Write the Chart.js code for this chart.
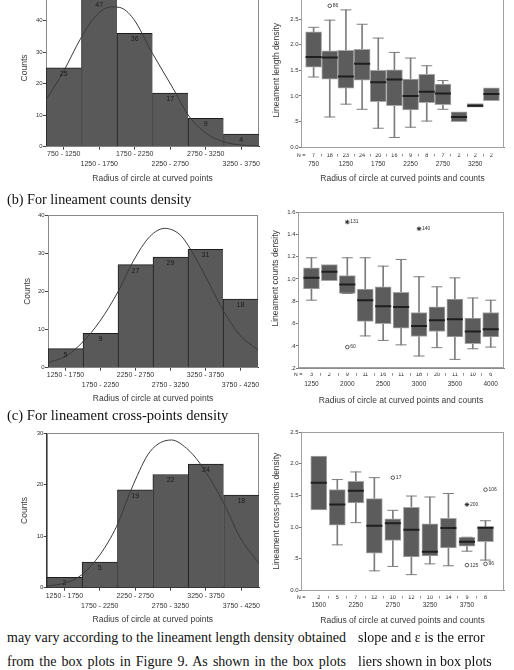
<!DOCTYPE html>
<html>
<head>
<meta charset="utf-8">
<script src="https://cdn.jsdelivr.net/npm/chart.js@4.4.1/dist/chart.umd.min.js"></script>
<style>
html,body{margin:0;padding:0;background:#fff;}
body{width:514px;height:670px;overflow:hidden;position:relative;}
canvas.c{position:absolute;}
.head{position:absolute;left:7px;font-family:"Liberation Serif","Times New Roman",serif;line-height:1;color:#111;white-space:nowrap;}
.body{position:absolute;font-family:"Liberation Serif","Times New Roman",serif;font-size:14px;line-height:24px;color:#111;white-space:nowrap;}
.just{text-align:justify;text-align-last:justify;}
</style>
</head>
<body>
<canvas class="c" id="histA"></canvas>
<canvas class="c" id="boxA"></canvas>
<canvas class="c" id="histB"></canvas>
<canvas class="c" id="boxB"></canvas>
<canvas class="c" id="histC"></canvas>
<canvas class="c" id="boxC"></canvas>

<div class="head" style="top:192.1px;font-size:14.2px">(b) For lineament counts density</div>
<div class="head" style="top:407.8px;font-size:14.6px">(c) For lineament cross-points density</div>

<div class="body just" style="left:7px;top:626.3px;width:339px">may vary according to the lineament length density obtained</div>
<div class="body just" style="left:7px;top:650.3px;width:339px">from the box plots in Figure 9. As shown in the box plots</div>
<div class="body" style="left:358px;top:626.3px">slope and ε is the error</div>
<div class="body" style="left:358px;top:650.3px">liers shown in box plots</div>

<script>
// ================= DATA =================
// (a) lineament length density
const histA_edges  = [750, 1250, 1750, 2250, 2750, 3250, 3750];
const histA_bins   = ['750 - 1250','1250 - 1750','1750 - 2250','2250 - 2750','2750 - 3250','3250 - 3750'];
const histA_counts = [25, 47, 36, 17, 9, 4];
const histA_curveX = [750, 994, 1252, 1463, 1673, 1790, 1978, 2250, 2540, 2751, 3009, 3248, 3502, 3750];
const histA_curveY = [14.8, 23.8, 34.9, 41.8, 44.4, 44.2, 40.7, 29.6, 18.5, 10.1, 4.2, 1.6, 0.5, 0.2];

const boxA_cats = ['750','','1250','','1750','','2250','','2750','','3250',''];
const boxA_n    = [7, 18, 23, 24, 20, 16, 9, 8, 7, 2, 2, 2];
const boxA_low  = [1.37, 0.59, 0.84, 0.74, 0.37, 0.19, 0.39, 0.51, 0.74, null, null, null];
const boxA_q1   = [1.56, 1.33, 1.15, 1.31, 0.89, 0.81, 0.73, 0.87, 0.83, 0.50, 0.78, 0.91];
const boxA_med  = [1.76, 1.75, 1.38, 1.63, 1.27, 1.32, 1.00, 1.08, 1.05, 0.59, 0.81, 1.04];
const boxA_q3   = [2.25, 1.88, 1.89, 1.91, 1.50, 1.51, 1.33, 1.42, 1.23, 0.69, 0.85, 1.16];
const boxA_high = [2.34, 2.48, 2.68, 2.40, 2.13, 1.85, 1.74, 1.59, 1.30, null, null, null];
const boxA_outBox = [1];
const boxA_outVal = [2.76];
const boxA_outLab = ['86'];
const boxA_outExt = [false];

// (b) lineament counts density
const histB_edges  = [1250, 1750, 2250, 2750, 3250, 3750, 4250];
const histB_bins   = ['1250 - 1750','1750 - 2250','2250 - 2750','2750 - 3250','3250 - 3750','3750 - 4250'];
const histB_counts = [5, 9, 27, 29, 31, 18];
const histB_curveX = [1250, 1512, 1750, 1988, 2250, 2464, 2702, 2917, 3131, 3250, 3464, 3750, 3988, 4250];
const histB_curveY = [1.3, 3.1, 6.8, 12.1, 19.9, 27.8, 34.3, 36.5, 34.9, 32.1, 25.2, 15.1, 8.6, 4.6];

const boxB_cats = ['1250','','2000','','2500','','3000','','3500','','4000'];
const boxB_n    = [3, 2, 9, 11, 16, 11, 18, 20, 11, 10, 6];
const boxB_low  = [0.81, null, 0.87, 0.49, 0.45, 0.41, 0.31, 0.385, 0.28, 0.375, 0.39];
const boxB_q1   = [0.91, 0.985, 0.87, 0.62, 0.60, 0.56, 0.485, 0.53, 0.48, 0.42, 0.48];
const boxB_med  = [1.01, 1.065, 0.95, 0.81, 0.755, 0.75, 0.58, 0.63, 0.64, 0.53, 0.55];
const boxB_q3   = [1.10, 1.13, 1.03, 0.91, 0.93, 0.88, 0.70, 0.75, 0.82, 0.65, 0.70];
const boxB_high = [1.19, null, 1.19, 1.19, 1.115, 1.175, 1.02, 0.93, 1.01, 0.83, 0.81];
const boxB_outBox = [2, 2, 6];
const boxB_outVal = [1.51, 0.39, 1.45];
const boxB_outLab = ['131', '60', '140'];
const boxB_outExt = [true, false, true];

// (c) lineament cross-points density
const histC_edges  = [1250, 1750, 2250, 2750, 3250, 3750, 4250];
const histC_bins   = ['1250 - 1750','1750 - 2250','2250 - 2750','2750 - 3250','3250 - 3750','3750 - 4250'];
const histC_counts = [2, 5, 19, 22, 24, 18];
const histC_curveX = [1250, 1532, 1744, 2002, 2237, 2473, 2708, 3013, 3225, 3413, 3742, 3977, 4250];
const histC_curveY = [0.3, 1.0, 2.5, 6.4, 11.9, 20.0, 26.4, 28.7, 27.1, 24.2, 16.7, 9.9, 4.7];

const boxC_cats = ['1500','','2250','','2750','','3250','','3750',''];
const boxC_n    = [2, 5, 7, 12, 10, 12, 10, 14, 9, 8];
const boxC_low  = [null, 0.72, 1.07, 0.31, 0.38, 0.25, 0.42, 0.39, 0.62, 0.48];
const boxC_q1   = [1.27, 1.03, 1.38, 0.59, 0.79, 0.53, 0.545, 0.67, 0.70, 0.77];
const boxC_med  = [1.70, 1.355, 1.575, 1.02, 1.06, 0.96, 0.61, 0.985, 0.77, 0.99];
const boxC_q3   = [2.12, 1.59, 1.72, 1.45, 1.13, 1.31, 1.05, 1.14, 0.84, 1.01];
const boxC_high = [null, 1.75, 1.87, 1.78, 1.265, 1.49, 1.475, 1.53, 0.84, 1.10];
const boxC_outBox = [4, 8, 8, 9, 9];
const boxC_outVal = [1.78, 1.355, 0.40, 1.59, 0.42];
const boxC_outLab = ['17', '200', '125', '106', '96'];
const boxC_outExt = [false, true, false, false, false];

// ================= RENDERING =================
const F = "'Liberation Sans', Arial, Helvetica, sans-serif";
Chart.defaults.font.family = F;
Chart.defaults.color = '#333';
Chart.defaults.animation = false;

const framePlugin = {
  id: 'frame',
  beforeDatasetsDraw(chart, args, opts) {
    const a = chart.chartArea, ctx = chart.ctx;
    ctx.save();
    ctx.strokeStyle = opts.color || '#999';
    ctx.lineWidth = 1;
    ctx.strokeRect(Math.round(a.left) + 0.5, Math.round(a.top) + 0.5,
                   Math.round(a.right - a.left) - 1, Math.round(a.bottom - a.top) - 1);
    ctx.restore();
  }
};

const barLabelPlugin = {
  id: 'barLabels',
  afterDatasetsDraw(chart, args, opts) {
    const ctx = chart.ctx;
    const meta = chart.getDatasetMeta(0);
    const ds = chart.data.datasets[0];
    ctx.save();
    ctx.font = opts.font;
    ctx.fillStyle = opts.color;
    ctx.textAlign = 'center';
    ctx.textBaseline = 'middle';
    meta.data.forEach((el, i) => ctx.fillText(String(ds.data[i].y), el.x, el.y + opts.offset));
    ctx.restore();
  }
};

const pointLabelPlugin = {
  id: 'pointLabels',
  afterDatasetsDraw(chart) {
    const ctx = chart.ctx;
    chart.data.datasets.forEach((ds, di) => {
      if (!ds.pointLabels) return;
      const meta = chart.getDatasetMeta(di);
      ctx.save();
      ctx.font = '5px ' + F;
      ctx.fillStyle = '#333';
      ctx.textAlign = 'left';
      ctx.textBaseline = 'middle';
      meta.data.forEach((el, i) => ctx.fillText(ds.pointLabels[i], el.x + 3, el.y));
      ctx.restore();
    });
  }
};

function sizeCanvas(cv, g) {
  const H = Math.round(g.titleY + 5.1 - g.top);
  cv.width = g.width; cv.height = H;
  cv.style.left = g.left + 'px'; cv.style.top = g.top + 'px';
  cv.style.width = g.width + 'px'; cv.style.height = H + 'px';
  return H;
}

function makeHist(id, g, edges, bins, counts, curveX, curveY) {
  const cv = document.getElementById(id);
  const H = sizeCanvas(cv, g);
  const titlePadB = (g.top + H) - (g.titleY + 5.1);
  const centers = bins.map((_, i) => (edges[i] + edges[i + 1]) / 2);
  new Chart(cv, {
    type: 'bar',
    data: {
      datasets: [
        { type: 'bar', data: centers.map((c, i) => ({x: c, y: counts[i]})), xAxisID: 'x', yAxisID: 'y',
          backgroundColor: '#595959', borderColor: '#1c1c1c',
          borderWidth: {top: 1, left: 1, right: 0, bottom: 0}, borderSkipped: false,
          grouped: false, categoryPercentage: 1, barPercentage: 1, order: 1 },
        { type: 'line', data: curveX.map((x, i) => ({x: x, y: curveY[i]})), xAxisID: 'x', yAxisID: 'y',
          borderColor: '#3a3a3a', borderWidth: 1, pointRadius: 0, cubicInterpolationMode: 'monotone',
          fill: false, order: 0 }
      ]
    },
    options: {
      responsive: false, animation: false,
      layout: { padding: { left: 0, top: g.plotTop - g.top, right: g.left + g.width - g.plotRight, bottom: 0 } },
      scales: {
        x: { type: 'linear', position: 'bottom', offset: false, min: edges[0], max: edges[edges.length - 1],
             afterBuildTicks: s => { s.ticks = centers.map(c => ({value: c})); },
             grid: { display: true, drawOnChartArea: false, offset: false, tickLength: 3, color: '#444' },
             border: { display: true, color: '#333' },
             ticks: { autoSkip: false, maxRotation: 0, minRotation: 0, padding: g.labelPad, color: '#333',
                      font: { size: 7, lineHeight: 1.5 },
                      callback: (v, i) => (i % 2 === 0 ? [bins[i], ''] : ['', bins[i]]) },
             title: { display: true, text: 'Radius of circle at curved points', color: '#3a3a3a',
                      font: { size: 8.5, lineHeight: 1.2 }, padding: { top: 0, bottom: titlePadB } },
             afterFit: s => { s.height = g.top + H - g.plotBottom; } },
        y: { type: 'linear', position: 'left', min: 0, max: g.yMax,
             ticks: { stepSize: 10, padding: 0.3, color: '#333', font: { size: 6 } },
             grid: { drawOnChartArea: false, tickLength: 3, color: '#444' },
             border: { display: true, color: '#333' },
             title: { display: true, text: 'Counts', color: '#3a3a3a', font: { size: 8.5, lineHeight: 1.2 },
                      padding: { top: g.yTitleX - g.left - 5.1, bottom: 0 } },
             afterFit: s => { s.width = g.plotLeft - g.left; } }
      },
      plugins: {
        legend: { display: false }, tooltip: { enabled: false },
        frame: { color: '#8a8a8a' },
        barLabels: { font: '7px ' + F, color: '#1a1a1a', offset: 6 }
      }
    },
    plugins: [framePlugin, barLabelPlugin]
  });
}

function fmtDensity(v) {
  const r = Math.round(v * 10) / 10;
  const s = r.toFixed(1);
  return (r > 0 && r < 1) ? s.slice(1) : s;
}

function makeBox(id, g, d) {
  const cv = document.getElementById(id);
  const H = sizeCanvas(cv, g);
  const titlePadB = (g.top + H) - (g.titleY + 5.1);
  const idx = d.n.map((_, i) => i);
  const whisk = idx.filter(i => d.lo[i] != null && d.hi[i] != null).map(i => ({x: i, y: [d.lo[i], d.hi[i]]}));
  const boxes = idx.map(i => ({x: i, y: [d.q1[i], d.q3[i]]}));
  const meds = idx.map(i => ({x: i, y: d.med[i]}));
  const caps = [];
  idx.forEach(i => {
    if (d.hi[i] != null) caps.push({x: i, y: d.hi[i]});
    if (d.lo[i] != null) caps.push({x: i, y: d.lo[i]});
  });
  const circ = [], circLab = [], star = [], starLab = [];
  d.outBox.forEach((b, k) => {
    if (d.outExt[k]) { star.push({x: b, y: d.outVal[k]}); starLab.push(d.outLab[k]); }
    else { circ.push({x: b, y: d.outVal[k]}); circLab.push(d.outLab[k]); }
  });
  const xnTop = g.nRow - 1.5;
  const xcTop = g.catRow - 3.9;
  new Chart(cv, {
    type: 'bar',
    data: {
      datasets: [
        { type: 'bar', data: whisk, xAxisID: 'x', yAxisID: 'y', barThickness: 1, grouped: false,
          backgroundColor: '#7d7d7d', borderWidth: 0, order: 5 },
        { type: 'bar', data: boxes, xAxisID: 'x', yAxisID: 'y', barThickness: 16, grouped: false,
          backgroundColor: '#5c5c5c', borderColor: '#a6a6a6', borderWidth: 1, borderSkipped: false, order: 4 },
        { type: 'scatter', data: meds, xAxisID: 'x', yAxisID: 'y', pointStyle: 'line', pointRadius: 8,
          pointBorderWidth: 2, pointBorderColor: '#1e1e1e', order: 3 },
        { type: 'scatter', data: caps, xAxisID: 'x', yAxisID: 'y', pointStyle: 'line', pointRadius: 5.5,
          pointBorderWidth: 1, pointBorderColor: '#7d7d7d', order: 2 },
        { type: 'scatter', data: circ, xAxisID: 'x', yAxisID: 'y', pointStyle: 'circle', pointRadius: 1.8,
          pointBackgroundColor: 'rgba(255,255,255,0)', pointBorderColor: '#333', pointBorderWidth: 0.8,
          pointLabels: circLab, order: 1 },
        { type: 'scatter', data: star, xAxisID: 'x', yAxisID: 'y', pointStyle: 'star', pointRadius: 2.3,
          pointBorderColor: '#222', pointBorderWidth: 0.9, pointLabels: starLab, order: 1 }
      ]
    },
    options: {
      responsive: false, animation: false,
      layout: { padding: { left: 0, top: g.plotTop - g.top, right: g.left + g.width - g.plotRight, bottom: 0 } },
      scales: {
        x: { type: 'linear', position: 'bottom', weight: 0, offset: false, min: g.xMin, max: g.xMax,
             ticks: { display: false }, grid: { display: false, drawTicks: false, offset: false },
             border: { display: true, color: '#8c8c8c' },
             afterFit: s => { s.height = xnTop - g.plotBottom; } },
        xn: { type: 'linear', position: 'bottom', weight: 1, offset: false, min: g.xMin, max: g.xMax,
              afterBuildTicks: s => {
                const t = [g.xMin];
                idx.forEach(i => { t.push(i); if (i < idx.length - 1) t.push(i + 0.5); });
                s.ticks = t.map(v => ({value: v}));
              },
              ticks: { autoSkip: false, maxRotation: 0, minRotation: 0, padding: -4.8, color: '#2a2a2a',
                       font: { size: 5.5, lineHeight: 1.2 },
                       callback: v => (v === g.xMin ? 'N =' : (Number.isInteger(v) ? String(d.n[v]) : '')) },
              grid: { display: true, drawOnChartArea: false, drawTicks: true, tickLength: 3, tickWidth: 0.8,
                      offset: false, color: 'rgba(0,0,0,0)',
                      tickColor: c => (c.tick && !Number.isInteger(c.tick.value) && c.tick.value !== g.xMin) ? '#777' : 'rgba(0,0,0,0)' },
              border: { display: false },
              afterFit: s => { s.height = xcTop - xnTop; } },
        xc: { type: 'linear', position: 'bottom', weight: 2, offset: false, min: g.xMin, max: g.xMax,
              afterBuildTicks: s => { s.ticks = idx.map(i => ({value: i})); },
              ticks: { autoSkip: false, maxRotation: 0, minRotation: 0, padding: 0, color: '#333',
                       font: { size: 6.5, lineHeight: 1.2 }, callback: v => (d.cats[v] || '') },
              grid: { display: false, drawTicks: false, offset: false }, border: { display: false },
              title: { display: true, text: 'Radius of circle at curved points and counts', color: '#3a3a3a',
                       font: { size: 8.5, lineHeight: 1.2 }, padding: { top: 0, bottom: titlePadB } },
              afterFit: s => { s.height = g.top + H - xcTop; } },
        y: { type: 'linear', position: 'left', min: g.yMin, max: g.yMax,
             ticks: { stepSize: g.yStep, padding: 0.5, color: '#333', font: { size: 6 }, callback: v => fmtDensity(v) },
             grid: { drawOnChartArea: false, tickLength: 2, color: '#777' },
             border: { display: true, color: '#8c8c8c' },
             title: { display: true, text: d.yTitle, color: '#3a3a3a', font: { size: 8.5, lineHeight: 1.2 },
                      padding: { top: g.yTitleX - g.left - 5.1, bottom: 0 } },
             afterFit: s => { s.width = g.plotLeft - g.left; } }
      },
      plugins: { legend: { display: false }, tooltip: { enabled: false }, frame: { color: '#a0a0a0' } }
    },
    plugins: [framePlugin, pointLabelPlugin]
  });
}

// ---- layout geometry (pixel positions on the page) ----
makeHist('histA', { left: 0, top: -20, width: 265, plotLeft: 46, plotRight: 259, plotTop: -10.8, plotBottom: 146.7,
                    titleY: 178.3, yTitleX: 25, labelPad: -0.95, yMax: 50 },
         histA_edges, histA_bins, histA_counts, histA_curveX, histA_curveY);
makeHist('histB', { left: 0, top: 205, width: 264, plotLeft: 48, plotRight: 258, plotTop: 215, plotBottom: 367.7,
                    titleY: 399, yTitleX: 28, labelPad: -0.95, yMax: 40 },
         histB_edges, histB_bins, histB_counts, histB_curveX, histB_curveY);
makeHist('histC', { left: 0, top: 423, width: 265, plotLeft: 46.7, plotRight: 259, plotTop: 433.3, plotBottom: 587.7,
                    titleY: 620, yTitleX: 25, labelPad: 0.05, yMax: 30 },
         histC_edges, histC_bins, histC_counts, histC_curveX, histC_curveY);

makeBox('boxA', { left: 260, top: -17, width: 254, plotLeft: 301, plotRight: 510, plotTop: -6.5, plotBottom: 147.2,
                  nRow: 155, catRow: 164, titleY: 178.5, yTitleX: 276.7,
                  xMin: -0.78, xMax: 11.78, yMin: 0, yMax: 3.0, yStep: 0.5 },
        { cats: boxA_cats, n: boxA_n, lo: boxA_low, q1: boxA_q1, med: boxA_med, q3: boxA_q3, hi: boxA_high,
          outBox: boxA_outBox, outVal: boxA_outVal, outLab: boxA_outLab, outExt: boxA_outExt,
          yTitle: 'Lineament length density' });
makeBox('boxB', { left: 260, top: 201.7, width: 254, plotLeft: 298, plotRight: 507.7, plotTop: 211.7, plotBottom: 368,
                  nRow: 374, catRow: 384.3, titleY: 400, yTitleX: 275.7,
                  xMin: -0.75, xMax: 10.74, yMin: 0.2, yMax: 1.6, yStep: 0.2 },
        { cats: boxB_cats, n: boxB_n, lo: boxB_low, q1: boxB_q1, med: boxB_med, q3: boxB_q3, hi: boxB_high,
          outBox: boxB_outBox, outVal: boxB_outVal, outLab: boxB_outLab, outExt: boxB_outExt,
          yTitle: '          Lineament counts density' });
makeBox('boxC', { left: 260, top: 421.7, width: 254, plotLeft: 301, plotRight: 510, plotTop: 431.7, plotBottom: 590.2,
                  nRow: 596.7, catRow: 605, titleY: 620, yTitleX: 276.7,
                  xMin: -0.96, xMax: 10.0, yMin: 0, yMax: 2.5, yStep: 0.5 },
        { cats: boxC_cats, n: boxC_n, lo: boxC_low, q1: boxC_q1, med: boxC_med, q3: boxC_q3, hi: boxC_high,
          outBox: boxC_outBox, outVal: boxC_outVal, outLab: boxC_outLab, outExt: boxC_outExt,
          yTitle: 'Lineament cross-points density' });
</script>
</body>
</html>
